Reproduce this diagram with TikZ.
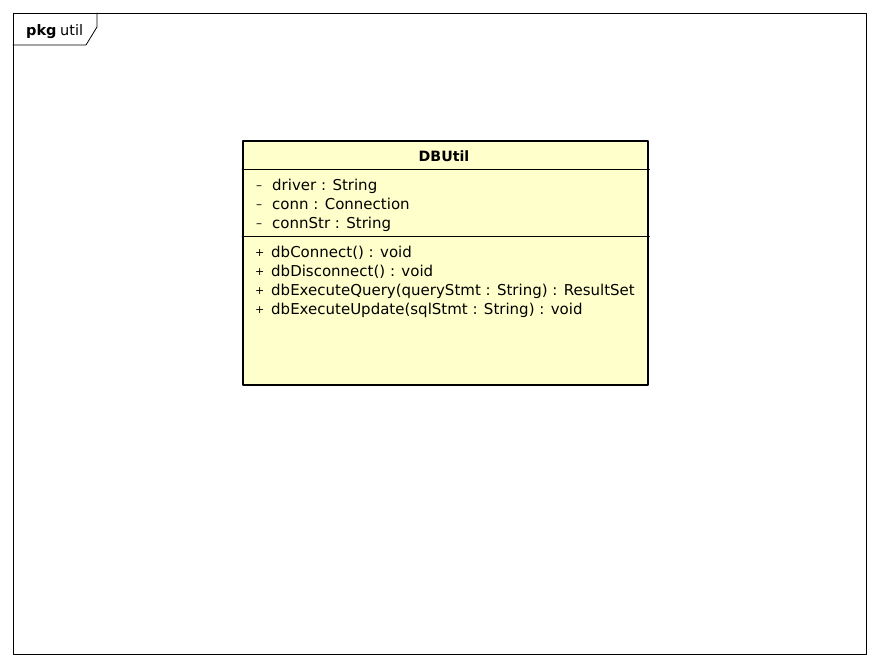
\documentclass[tikz,border=0pt]{standalone}
\usepackage{fontspec}
\setmainfont{DejaVu Sans}
\usetikzlibrary{positioning}
\usetikzlibrary{calc}
\definecolor{classfill}{RGB}{255,255,204}

\newcommand{\vis}[1]{\makebox[16pt][l]{#1}}
\newcommand{\pub}{\vis{\raisebox{0.6pt}{\fontsize{11}{12}\selectfont +}}}
\newcommand{\priv}{\vis{\raisebox{0.6pt}{\fontsize{12}{12}\selectfont --}}}

\tikzset{
  member/.style={anchor=base west, inner sep=0pt, font=\fontsize{15}{17}\selectfont},
}

\begin{document}
\begin{tikzpicture}[x=1pt, y=-1pt, line cap=round, line join=round]
    \useasboundingbox (0,0) rectangle (880,666);

    % package frame
    \draw[line width=0.8pt] (13,13) rectangle (866,654);
    \draw[line width=0.8pt] (13,45) -- (86,45) -- (97,27) -- (97,13);
    \node[member, font=\fontsize{14.5}{16}\selectfont] (pkg) at (26,36) {\textbf{pkg}\hspace{-1pt} util};

    % class box
    \node[draw, line width=2.4pt, fill=classfill, inner sep=0pt,
          minimum width=405pt, minimum height=244pt, anchor=north west] (cls) at (242,140) {};
    \draw[line width=0.8pt] ($(cls.north west)+(0,29)$) -- ($(cls.north east)+(0,29)$);
    \draw[line width=0.8pt] ($(cls.north west)+(0,96)$) -- ($(cls.north east)+(0,96)$);

    % name
    \node[member, anchor=base, font=\fontsize{14.2}{16}\selectfont] (name) at (444,161) {\textbf{DBUtil}};

    % attributes
    \node[member] (drv)  at (256,190) {\priv driver : String};
    \node[member] (conn) at (256,209) {\priv conn : Connection};
    \node[member] (cstr) at (256,228) {\priv connStr : String};

    % operations
    \node[member] (opa) at (255,257) {\pub dbConnect() : void};
    \node[member] (opb) at (255,276) {\pub dbDisconnect() : void};
    \node[member] (opc) at (255,295) {\pub dbExecuteQuery(queryStmt : String) : ResultSet};
    \node[member] (opd) at (255,314) {\pub dbExecuteUpdate(sqlStmt : String) : void};
\end{tikzpicture}
\end{document}
